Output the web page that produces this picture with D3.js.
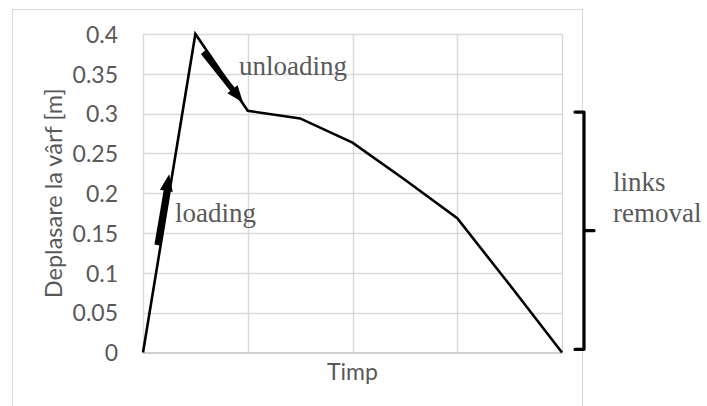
<!DOCTYPE html>
<html>
<head>
<meta charset="utf-8">
<script src="https://cdn.jsdelivr.net/npm/d3@7"></script>
<style>
  html, body { margin: 0; padding: 0; background: #fff; }
  svg { display: block; }
</style>
</head>
<body>
<svg id="chart" width="707" height="406"></svg>
<script>
// Tip displacement over time: loading, unloading, then successive link removal
const steps = [0, 1, 2, 3, 4, 5, 6, 7, 8];
const displacement = [0, 0.4, 0.3035, 0.294, 0.2636, 0.217, 0.1687, 0.085, 0];
const yTicks = [0, 0.05, 0.1, 0.15, 0.2, 0.25, 0.3, 0.35, 0.4];
const xGridSteps = [0, 2, 4, 6, 8];
const yTitle = "Deplasare la vârf [m]";
const xTitle = "Timp";

// Annotation arrows in data units: [from, to]
const arrowLoading = [[0.27, 0.135], [0.5, 0.224]];
const arrowUnloading = [[1.146, 0.377], [1.91, 0.314]];
// Bracket spanning the link-removal stage, in data units
const bracketRange = [0.004, 0.302];

const svg = d3.select("#chart");
const W = 707, H = 406;
const plot = { left: 143, right: 562, top: 34, bottom: 352.5 };

const x = d3.scaleLinear().domain([0, 8]).range([plot.left, plot.right]);
const y = d3.scaleLinear().domain([0, 0.4]).range([plot.bottom, plot.top]);

const sans = "Lato, 'Open Sans', sans-serif";
const serif = "'Liberation Serif', 'Times New Roman', serif";

svg.append("rect").attr("width", W).attr("height", H).attr("fill", "#fff");

// Chart frame
svg.append("rect")
  .attr("x", 12.5).attr("y", 9.5)
  .attr("width", 570).attr("height", 420)
  .attr("fill", "none").attr("stroke", "#d9d9d9").attr("stroke-width", 1);

// Horizontal gridlines
svg.append("g")
  .selectAll("line")
  .data(yTicks.filter(d => d > 0))
  .join("line")
  .attr("x1", plot.left).attr("x2", plot.right)
  .attr("y1", d => Math.round(y(d)) + 0.5).attr("y2", d => Math.round(y(d)) + 0.5)
  .attr("stroke", "#d9d9d9").attr("stroke-width", 1.4);

// Vertical gridlines
svg.append("g")
  .selectAll("line")
  .data(xGridSteps)
  .join("line")
  .attr("x1", d => Math.round(x(d)) + 0.5).attr("x2", d => Math.round(x(d)) + 0.5)
  .attr("y1", plot.top).attr("y2", plot.bottom)
  .attr("stroke", "#d9d9d9").attr("stroke-width", 1.4);

// Y axis tick labels
const yAxis = d3.axisLeft(y).tickValues(yTicks).tickSize(0).tickPadding(25)
  .tickFormat(d => String(+d.toFixed(2)));
const gy = svg.append("g").attr("transform", `translate(${plot.left},0)`).call(yAxis);
gy.select(".domain").remove();
gy.selectAll("text")
  .attr("font-family", sans)
  .attr("font-size", 23)
  .attr("fill", "#595959")
  .attr("dy", "0.36em");

// X axis baseline
const xAxis = d3.axisBottom(x).tickValues([]).tickSize(0).tickSizeOuter(0);
const gx = svg.append("g").attr("transform", `translate(0,${plot.bottom})`).call(xAxis);
gx.select(".domain").attr("stroke", "#bfbfbf").attr("stroke-width", 1.6);

// Axis titles
svg.append("text")
  .attr("transform", `translate(62,${(plot.top + plot.bottom) / 2}) rotate(-90)`)
  .attr("text-anchor", "middle")
  .attr("font-family", sans)
  .attr("font-size", 23.5)
  .attr("fill", "#595959")
  .text(yTitle);

svg.append("text")
  .attr("x", (plot.left + plot.right) / 2).attr("y", 380)
  .attr("text-anchor", "middle")
  .attr("font-family", sans)
  .attr("font-size", 23)
  .attr("fill", "#595959")
  .text(xTitle);

// Data line
const line = d3.line().x((d, i) => x(steps[i])).y(d => y(d));
svg.append("path")
  .datum(displacement)
  .attr("d", line)
  .attr("fill", "none")
  .attr("stroke", "#000")
  .attr("stroke-width", 2.6)
  .attr("stroke-linejoin", "miter");

// Thick block arrows
function arrowPath(from, to, shaftW, headL, headW) {
  const x0 = x(from[0]), y0 = y(from[1]);
  const x1 = x(to[0]), y1 = y(to[1]);
  const dx = x1 - x0, dy = y1 - y0;
  const len = Math.hypot(dx, dy);
  const ux = dx / len, uy = dy / len;
  const nx = -uy, ny = ux;
  const bx = x1 - ux * headL, by = y1 - uy * headL;
  const pts = [
    [x0 + nx * shaftW / 2, y0 + ny * shaftW / 2],
    [bx + nx * shaftW / 2, by + ny * shaftW / 2],
    [bx + nx * headW / 2, by + ny * headW / 2],
    [x1, y1],
    [bx - nx * headW / 2, by - ny * headW / 2],
    [bx - nx * shaftW / 2, by - ny * shaftW / 2],
    [x0 - nx * shaftW / 2, y0 - ny * shaftW / 2]
  ];
  return "M" + pts.map(p => p.join(",")).join("L") + "Z";
}
svg.append("path").attr("d", arrowPath(arrowLoading[0], arrowLoading[1], 5.5, 17, 13)).attr("fill", "#000");
svg.append("path").attr("d", arrowPath(arrowUnloading[0], arrowUnloading[1], 5.5, 17, 13)).attr("fill", "#000");

// Annotation labels
svg.append("text").attr("x", 239).attr("y", 75)
  .attr("font-family", serif).attr("font-size", 27).attr("fill", "#595959")
  .text("unloading");
svg.append("text").attr("x", 175).attr("y", 222)
  .attr("font-family", serif).attr("font-size", 27).attr("fill", "#595959")
  .text("loading");

// Bracket for link removal
const by0 = y(bracketRange[1]), by1 = y(bracketRange[0]);
const bmid = (by0 + by1) / 2;
const bx = 584;
svg.append("path")
  .attr("d", `M575,${by0} L${bx},${by0} L${bx},${by1} L575,${by1} M${bx},${bmid} L594,${bmid}`)
  .attr("fill", "none").attr("stroke", "#000").attr("stroke-width", 3.2)
  .attr("stroke-linecap", "round").attr("stroke-linejoin", "round");

const lr = svg.append("text")
  .attr("font-family", serif).attr("font-size", 27).attr("fill", "#595959");
lr.append("tspan").attr("x", 613).attr("y", 191).text("links");
lr.append("tspan").attr("x", 613).attr("y", 222).text("removal");
</script>
</body>
</html>
